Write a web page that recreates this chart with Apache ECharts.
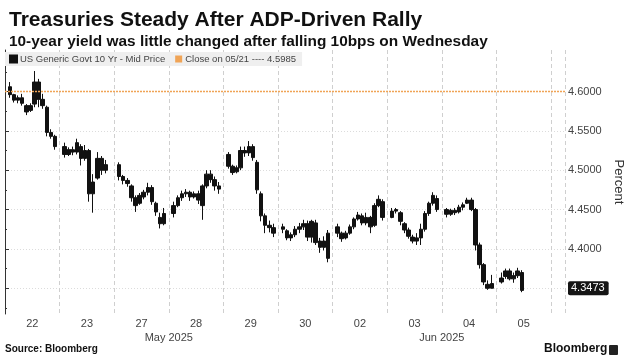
<!DOCTYPE html>
<html>
<head>
<meta charset="utf-8">
<script src="https://cdn.jsdelivr.net/npm/echarts@6/dist/echarts.min.js"></script>
<style>
html,body{margin:0;padding:0;background:#fff;}
#c{width:628px;height:359px;}
</style>
</head>
<body>
<div id="c"></div>
<script>
// ---- Data ----
const titleText = 'Treasuries Steady After ADP-Driven Rally';
const subtitleText = '10-year yield was little changed after falling 10bps on Wednesday';
const seriesName = 'US Generic Govt 10 Yr - Mid Price';
const closeDate = '05/21';
const closeRef = 4.5985;
const dayLabels = ['22','23','27','28','29','30','02','03','04','05'];
const monthLabels = {3: 'May 2025', 8: 'Jun 2025'};
const yTicks = [4.35, 4.40, 4.45, 4.50, 4.55, 4.60];
const yMinorTicks = [4.325, 4.375, 4.425, 4.475, 4.525, 4.575, 4.625];

// intraday bars per session: [open, close, low, high]
const s22 = [
[4.606,4.596,4.592,4.612],[4.596,4.589,4.586,4.597],[4.589,4.592,4.585,4.595],[4.592,4.585,4.582,4.597],
[4.582,4.574,4.570,4.584],[4.576,4.582,4.574,4.585],[4.584,4.612,4.580,4.626],[4.612,4.590,4.580,4.616],
[4.590,4.582,4.578,4.597],[4.580,4.548,4.543,4.582],[4.548,4.543,4.540,4.552],[4.543,4.530,4.526,4.545]];
const s23 = [
[4.530,4.520,4.516,4.535],[4.520,4.526,4.518,4.529],[4.526,4.523,4.519,4.530],[4.523,4.535,4.520,4.540],
[4.530,4.515,4.506,4.533],[4.515,4.525,4.512,4.532],[4.525,4.470,4.460,4.527],[4.470,4.485,4.446,4.495],
[4.490,4.515,4.488,4.523],[4.515,4.500,4.494,4.518],[4.500,4.507,4.496,4.513]];
const s27 = [
[4.507,4.492,4.487,4.510],[4.492,4.487,4.482,4.494],[4.487,4.483,4.479,4.490],[4.480,4.465,4.460,4.482],
[4.465,4.455,4.447,4.468],[4.458,4.468,4.456,4.471],[4.466,4.472,4.463,4.475],[4.472,4.478,4.468,4.484],
[4.478,4.460,4.456,4.481],[4.458,4.447,4.442,4.460],[4.440,4.432,4.426,4.446],[4.432,4.445,4.430,4.452]];
const s28 = [
[4.445,4.455,4.440,4.460],[4.455,4.465,4.453,4.468],[4.465,4.470,4.461,4.474],[4.470,4.472,4.466,4.476],
[4.472,4.466,4.461,4.474],[4.466,4.470,4.464,4.473],[4.470,4.462,4.457,4.474],[4.455,4.480,4.437,4.482],
[4.480,4.495,4.477,4.500],[4.495,4.488,4.484,4.500],[4.488,4.480,4.474,4.492],[4.480,4.476,4.470,4.485]];
const s29 = [
[4.520,4.505,4.502,4.523],[4.505,4.497,4.494,4.507],[4.498,4.503,4.496,4.506],[4.503,4.525,4.500,4.530],
[4.525,4.522,4.517,4.530],[4.522,4.530,4.518,4.537],[4.530,4.516,4.512,4.533],[4.510,4.475,4.470,4.513],
[4.470,4.442,4.435,4.473],[4.442,4.430,4.420,4.445],[4.430,4.427,4.421,4.436],[4.427,4.420,4.415,4.432]];
const s30 = [
[4.428,4.425,4.420,4.432],[4.423,4.414,4.411,4.425],[4.414,4.418,4.410,4.421],[4.418,4.425,4.415,4.429],
[4.425,4.428,4.420,4.433],[4.428,4.432,4.424,4.437],[4.432,4.415,4.410,4.436],[4.415,4.435,4.408,4.437],
[4.433,4.408,4.405,4.437],[4.410,4.402,4.395,4.414],[4.402,4.410,4.398,4.416],[4.420,4.388,4.383,4.424]];
const s02 = [
[4.428,4.420,4.415,4.432],[4.420,4.413,4.409,4.422],[4.414,4.420,4.412,4.423],[4.420,4.428,4.418,4.431],
[4.428,4.438,4.425,4.440],[4.438,4.443,4.436,4.447],[4.442,4.433,4.430,4.445],[4.433,4.440,4.430,4.446],
[4.440,4.428,4.420,4.442],[4.430,4.455,4.428,4.458],[4.455,4.463,4.453,4.468],[4.460,4.440,4.436,4.463]];
const s03 = [
[4.440,4.448,4.439,4.452],[4.448,4.450,4.445,4.452],[4.446,4.435,4.430,4.448],[4.432,4.424,4.420,4.434],
[4.424,4.416,4.413,4.427],[4.415,4.410,4.407,4.418],[4.410,4.414,4.405,4.420],[4.414,4.425,4.405,4.432],
[4.425,4.445,4.422,4.448],[4.445,4.458,4.442,4.460],[4.458,4.468,4.455,4.472],[4.464,4.450,4.447,4.468]];
const s04 = [
[4.450,4.444,4.440,4.452],[4.444,4.449,4.442,4.451],[4.449,4.446,4.443,4.452],[4.447,4.453,4.445,4.456],
[4.453,4.456,4.449,4.459],[4.458,4.462,4.457,4.465],[4.462,4.450,4.448,4.465],[4.450,4.405,4.398,4.452],
[4.405,4.380,4.375,4.408],[4.380,4.358,4.354,4.382],[4.355,4.350,4.348,4.360],[4.350,4.356,4.350,4.367]];
const s05 = [
[4.358,4.363,4.356,4.370],[4.365,4.372,4.362,4.375],[4.372,4.362,4.360,4.375],[4.362,4.366,4.357,4.370],
[4.366,4.372,4.363,4.376],[4.370,4.3473,4.345,4.373]];
const sessions = [s22, s23, s27, s28, s29, s30, s02, s03, s04, s05];

// bar time within a session (fraction of the session slot)
const sessionStart = 0.09;
const barStep = 0.075;

const candles = [];
sessions.forEach((bars, d) => {
  bars.forEach((b, k) => {
    candles.push([d + sessionStart + barStep * k, b[0], b[1], b[2], b[3]]);
  });
});
const lastBar = s05[s05.length - 1];
const lastClose = lastBar[1];
const closeName = 'Close on ' + closeDate + ' ---- ' + closeRef.toFixed(4);

const X_MIN = 0, X_MAX = 10.256;
const Y_MIN = 4.3173, Y_MAX = 4.6527;
const ORANGE = '#f0a456';

const chart = echarts.init(document.getElementById('c'), null, {renderer: 'canvas'});
const FONT = 'Liberation Sans';

chart.setOption({
  animation: false,
  backgroundColor: '#ffffff',
  title: {
    text: titleText,
    subtext: subtitleText,
    left: 4, top: 5,
    itemGap: 3,
    textStyle: {fontFamily: FONT, fontSize: 21, fontWeight: 'bold', color: '#111'},
    subtextStyle: {fontFamily: FONT, fontSize: 15.4, fontWeight: 'bold', color: '#111'}
  },
  legend: {
    left: 5, top: 52,
    padding: [2, 6, 2, 4],
    backgroundColor: '#efefef',
    itemWidth: 7, itemHeight: 7, itemGap: 10,
    icon: 'rect',
    textStyle: {fontFamily: FONT, fontSize: 9.5, color: '#444', padding: [0, 0, 0, -2]},
    data: [
      {name: seriesName, itemStyle: {color: '#111'}},
      {name: closeName, itemStyle: {color: ORANGE}}
    ]
  },
  grid: {left: 5, right: 63, top: 50, bottom: 45, containLabel: false, outerBoundsMode: 'none'},
  xAxis: [
    {
      type: 'value', min: X_MIN, max: X_MAX, interval: 1,
      axisLine: {show: false}, axisTick: {show: false}, axisLabel: {show: false},
      splitLine: {show: true, lineStyle: {color: '#cfcfcf', type: [4, 3], width: 1}}
    },
    {
      type: 'value', min: X_MIN, max: X_MAX, interval: 0.5, position: 'bottom',
      axisLine: {show: false}, axisTick: {show: false}, splitLine: {show: false},
      axisLabel: {
        margin: 4, fontFamily: FONT, fontSize: 11, color: '#444',
        showMinLabel: true, showMaxLabel: true,
        formatter: v => {
          const i = Math.floor(v + 1e-9);
          return Math.abs(v - i - 0.5) < 1e-6 && i < dayLabels.length ? dayLabels[i] : '';
        }
      }
    },
    {
      type: 'value', min: X_MIN, max: X_MAX, interval: 1, position: 'bottom',
      axisLine: {show: false}, axisTick: {show: false}, splitLine: {show: false},
      axisLabel: {
        margin: 18, fontFamily: FONT, fontSize: 11, color: '#444',
        formatter: v => monthLabels[Math.round(v)] && Math.abs(v - Math.round(v)) < 1e-6 ? monthLabels[Math.round(v)] : ''
      }
    }
  ],
  yAxis: [
    {
      type: 'value', position: 'right', min: Y_MIN, max: Y_MAX,
      name: 'Percent', nameLocation: 'middle', nameRotate: -90, nameGap: 40,
      nameTextStyle: {fontFamily: FONT, fontSize: 13, color: '#333'},
      axisLine: {show: true, lineStyle: {color: '#333', width: 1}},
      axisTick: {show: true, length: 4, customValues: yTicks, lineStyle: {color: '#333'}},
      axisLabel: {customValues: yTicks, fontFamily: FONT, fontSize: 11, color: '#444', margin: 3,
                  formatter: v => v.toFixed(4)},
      splitLine: {show: true, lineStyle: {color: '#dcdcdc', type: [1, 2], width: 1}}
    },
    {
      type: 'value', position: 'right', min: Y_MIN, max: Y_MAX,
      axisLine: {show: false},
      axisTick: {show: true, length: 2, customValues: yMinorTicks, lineStyle: {color: '#333'}},
      axisLabel: {show: false}, splitLine: {show: false}
    }
  ],
  series: [
    {
      name: closeName,
      type: 'line', data: [],
      xAxisIndex: 0, yAxisIndex: 0,
      itemStyle: {color: ORANGE},
      lineStyle: {color: ORANGE}
    },
    {
      name: seriesName,
      type: 'candlestick',
      xAxisIndex: 0, yAxisIndex: 0,
      barWidth: 4,
      encode: {x: 0, y: [1, 2, 3, 4]},
      data: candles,
      z: 3,
      itemStyle: {color: '#111', color0: '#111', borderColor: '#111', borderColor0: '#111', borderWidth: 1},
      markLine: {
        silent: true, symbol: ['none', 'none'], animation: false,
        data: [
          {
            yAxis: closeRef,
            lineStyle: {color: ORANGE, type: [2, 1], width: 1.3, opacity: 1},
            label: {show: false}
          },
          {
            yAxis: lastClose,
            lineStyle: {color: 'rgba(0,0,0,0)', width: 0},
            label: {
              show: true, position: 'end', distance: 3,
              formatter: () => lastClose.toFixed(4),
              backgroundColor: '#151515', color: '#fff', fontFamily: FONT, fontSize: 11,
              padding: [2, 4, 1, 3], borderRadius: 2
            }
          }
        ]
      }
    }
  ],
  graphic: [
    {type: 'text', left: 5, top: 344, style: {text: 'Source: Bloomberg', fontFamily: FONT, fontSize: 10, fontWeight: 'bold', fill: '#111'}},
    {type: 'text', left: 544, top: 343, style: {text: 'Bloomberg', fontFamily: FONT, fontSize: 12, fontWeight: 'bold', fill: '#111'}},
    {type: 'rect', left: 609, top: 345, shape: {width: 9, height: 10, r: 1}, style: {fill: '#222'}}
  ]
});
</script>
</body>
</html>
